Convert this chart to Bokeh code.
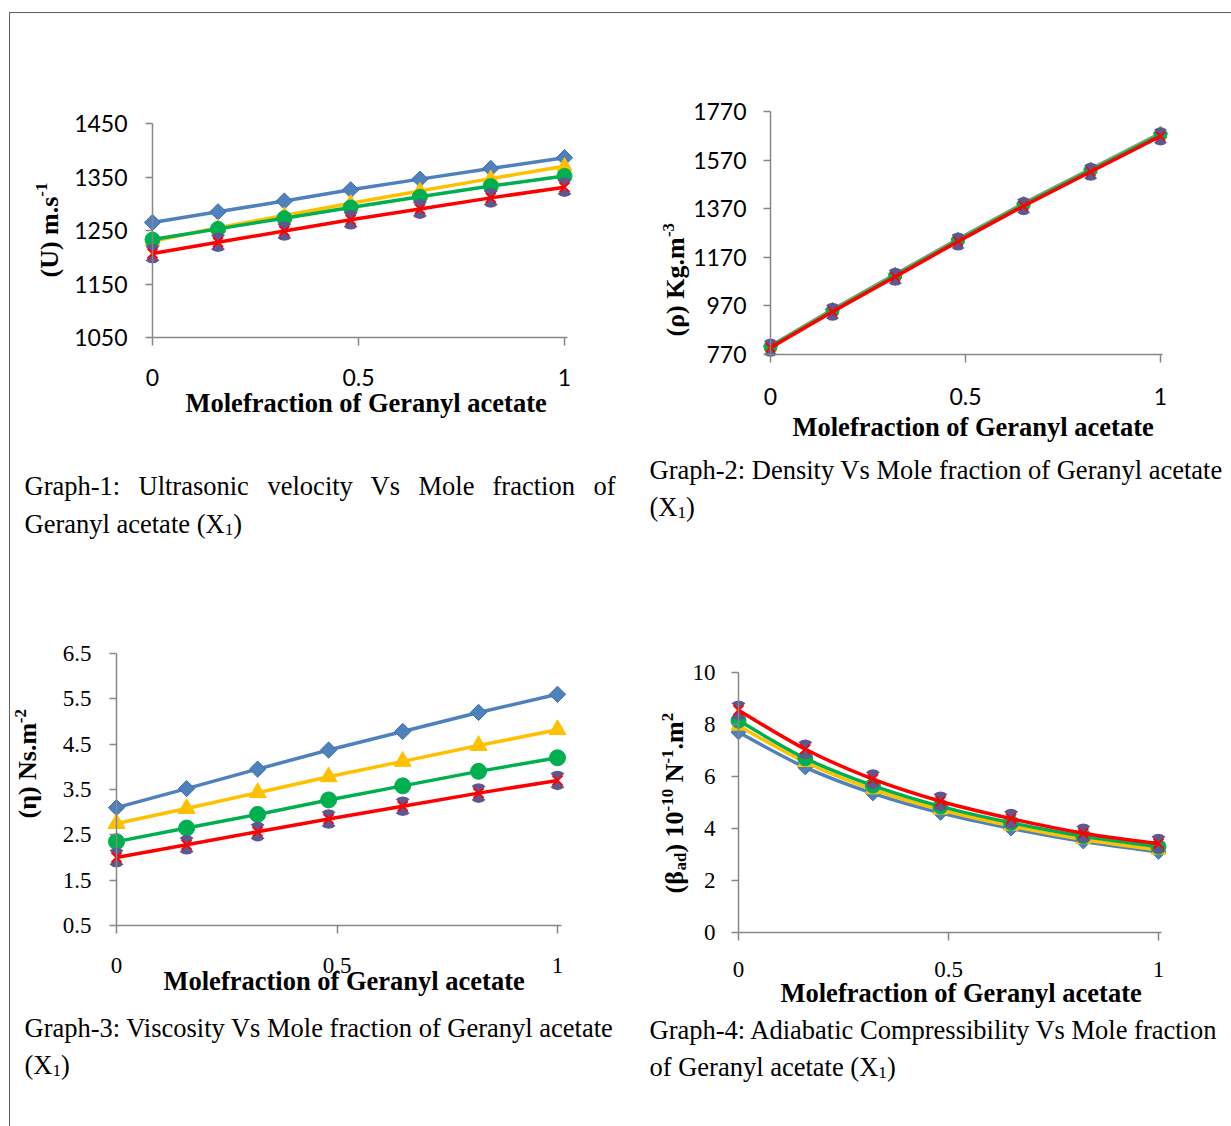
import math
from bokeh.plotting import figure
from bokeh.models import FixedTicker, Label, Spacer, NumeralTickFormatter
from bokeh.layouts import column, row
from bokeh.embed import file_html
from bokeh.resources import INLINE

# ---------------- data ----------------
x_frac = [0.0, 0.159, 0.32, 0.481, 0.649, 0.821, 1.0]

u_blue = [1265, 1285, 1305, 1326, 1346, 1366, 1386]
u_yellow = [1230, 1255, 1278, 1301, 1324, 1347, 1370]
u_green = [1233, 1253, 1273, 1293, 1313, 1333, 1352]
u_red = [1207, 1228, 1249, 1270, 1290, 1311, 1331]

rho_blue = [805, 955, 1100, 1245, 1392, 1533, 1680]
rho_yellow = [803, 952, 1097, 1242, 1389, 1530, 1677]
rho_green = [802, 950, 1095, 1240, 1387, 1528, 1675]
rho_red = [798, 946, 1090, 1235, 1381, 1522, 1668]

eta_blue = [3.10, 3.52, 3.95, 4.37, 4.78, 5.20, 5.60]
eta_yellow = [2.75, 3.08, 3.43, 3.78, 4.12, 4.47, 4.82]
eta_green = [2.35, 2.65, 2.95, 3.27, 3.58, 3.90, 4.20]
eta_red = [2.00, 2.28, 2.57, 2.85, 3.13, 3.42, 3.70]

beta_blue = [7.70, 6.35, 5.35, 4.60, 4.00, 3.50, 3.10]
beta_yellow = [7.95, 6.55, 5.50, 4.72, 4.10, 3.58, 3.18]
beta_green = [8.15, 6.70, 5.65, 4.85, 4.22, 3.70, 3.30]
beta_red = [8.55, 7.05, 5.90, 5.05, 4.38, 3.82, 3.42]

x_ticks = [0, 0.5, 1]
u_ticks = [1050, 1150, 1250, 1350, 1450]
rho_ticks = [770, 970, 1170, 1370, 1570, 1770]
eta_ticks = [0.5, 1.5, 2.5, 3.5, 4.5, 5.5, 6.5]
beta_ticks = [0, 2, 4, 6, 8, 10]

x_title = "Molefraction of Geranyl acetate"

# ---------------- styles ----------------
BLUE, BLUE_EDGE = "#4F81BD", "#3D6DAA"
YELLOW = "#FFC000"
GREEN = "#00B050"
RED = "#FF0000"
PURPLE = "#5E5790"
AXIS = "#868686"
SERIF = "Liberation Serif"
SANS = "Lato"

WR = {'G': 722, 'r': 333, 'a': 444, 'p': 500, 'h': 500, '-': 333, ':': 278, ' ': 250, 'D': 722,
      'e': 444, 'n': 500, 's': 389, 'i': 278, 't': 278, 'y': 500, 'V': 722, 'M': 889, 'o': 500,
      'l': 278, 'f': 333, 'c': 444, '(': 333, ')': 333, 'X': 722, 'U': 722, 'v': 500, 'A': 722,
      'd': 500, 'b': 500, 'C': 667, 'm': 778}
WB = {'(': 333, ')': 333, ' ': 250, 'U': 722, 'm': 833, '.': 250, 's': 389, '-': 333, 'ρ': 549,
      'K': 778, 'g': 500, 'η': 556, 'N': 722, 'β': 556, 'a': 500, 'd': 556}


def tw(text, size, table):
    return sum(table.get(c, 500) for c in text) * size / 1000.0


class Panel:
    """A figure whose frame fills its whole box; axes are pinned inside it."""

    def __init__(self, box, xmap, ymap, xbounds, ybounds):
        L, T, W, H = box
        (xa, pxa), (xb, pxb) = xmap
        (ya, pya), (yb, pyb) = ymap
        kx = (pxb - pxa) / (xb - xa)
        ky = (pya - pyb) / (yb - ya)
        xr = (xa - (pxa - L) / kx, xa + (L + W - pxa) / kx)
        yr = (ya - (T + H - pya) / ky, ya + (pya - T) / ky)
        p = figure(width=W, height=H, x_range=xr, y_range=yr, output_backend="svg",
                   toolbar_location=None, min_border=0, min_border_left=0, min_border_right=0,
                   min_border_top=0, min_border_bottom=0)
        p.grid.visible = False
        p.outline_line_color = None
        p.background_fill_color = "white"
        p.border_fill_color = "white"
        p.xaxis.fixed_location = ybounds[0]
        p.xaxis.bounds = xbounds
        p.yaxis.fixed_location = xbounds[0]
        p.yaxis.bounds = ybounds
        self.p = p
        self.fx = L
        self.fy = T + H

    def style_axes(self, yticks, font, size, xstand, ystand):
        p = self.p
        p.xaxis.ticker = FixedTicker(ticks=x_ticks)
        p.xaxis.formatter = NumeralTickFormatter(format="0.[0]")
        p.yaxis.ticker = FixedTicker(ticks=yticks)
        for ax in (p.xaxis[0], p.yaxis[0]):
            ax.axis_line_color = AXIS
            ax.axis_line_width = 1.5
            ax.major_tick_line_color = AXIS
            ax.major_tick_line_width = 1.5
            ax.major_tick_in = 0
            ax.minor_tick_in = 0
            ax.minor_tick_out = 0
            ax.major_label_text_font = font
            ax.major_label_text_font_size = size
            ax.major_label_text_color = "black"
        p.xaxis.major_tick_out = 8
        p.yaxis.major_tick_out = 7
        p.xaxis.major_label_standoff = xstand
        p.yaxis.major_label_standoff = ystand

    def put(self, px, py, text, size, bold=False, angle=0.0, align="left"):
        p = self.p
        p.add_layout(Label(x=p.x_range.start, y=p.y_range.start, x_units="data", y_units="data",
                           x_offset=px - self.fx, y_offset=self.fy - py, text=text, angle=angle,
                           text_font=SERIF, text_font_size=f"{size}px",
                           text_font_style="bold" if bold else "normal",
                           text_align=align, text_baseline="alphabetic", text_color="black"))

    def rich(self, x, y, pieces, size, bold, vertical=False):
        table = WB if bold else WR
        pos = 0.0
        for text, kind in pieces:
            s = size if kind == "n" else round(size * 0.65, 1)
            shift = 0.0 if kind == "n" else (0.28 * size if kind == "sup" else -0.22 * size)
            lead = len(text) - len(text.lstrip(" "))
            if lead:
                pos += tw(" " * lead, s, table)
                text = text.lstrip(" ")
            if vertical:
                self.put(x - shift, y - pos, text, s, bold, angle=math.pi / 2)
            else:
                self.put(x + pos, y - shift, text, s, bold)
            pos += tw(text, s, table)

    def series(self, ys_list, sizes, smooth=False, lw=3.5):
        p = self.p
        d, t, c, xs = sizes
        ys_b, ys_y, ys_g, ys_r = ys_list
        for ys, color in ((ys_b, BLUE), (ys_y, YELLOW), (ys_g, GREEN), (ys_r, RED)):
            if smooth:
                n = len(x_frac)
                pts = list(zip(x_frac, ys))
                seg = {k: [] for k in ("x0", "y0", "x1", "y1", "cx0", "cy0", "cx1", "cy1")}
                for i in range(n - 1):
                    p0 = pts[i - 1] if i > 0 else pts[i]
                    p1, p2 = pts[i], pts[i + 1]
                    p3 = pts[i + 2] if i + 2 < n else pts[i + 1]
                    seg["x0"].append(p1[0]); seg["y0"].append(p1[1])
                    seg["x1"].append(p2[0]); seg["y1"].append(p2[1])
                    seg["cx0"].append(p1[0] + (p2[0] - p0[0]) / 6)
                    seg["cy0"].append(p1[1] + (p2[1] - p0[1]) / 6)
                    seg["cx1"].append(p2[0] - (p3[0] - p1[0]) / 6)
                    seg["cy1"].append(p2[1] - (p3[1] - p1[1]) / 6)
                p.bezier(line_color=color, line_width=lw, line_cap="round", **seg)
            else:
                p.line(x_frac, ys, line_color=color, line_width=lw, line_join="round")
            if color == BLUE:
                p.scatter(x_frac, ys, marker="square", angle=math.pi / 4, size=d,
                          fill_color=BLUE, line_color=BLUE_EDGE, line_width=1)
            elif color == YELLOW:
                p.scatter(x_frac, ys, marker="triangle", size=t, fill_color=YELLOW, line_color=YELLOW)
            elif color == GREEN:
                p.scatter(x_frac, ys, marker="circle", size=c, fill_color=GREEN, line_color=GREEN)
            else:
                for a0 in (math.pi / 4, 5 * math.pi / 4):
                    p.wedge(x_frac, ys, radius=xs * 0.7, radius_units="screen", start_angle=a0,
                            end_angle=a0 + math.pi / 2, fill_color=PURPLE, line_color=None)
                p.scatter(x_frac, ys, marker="x", size=xs, line_color=RED, line_width=2)


# ---------------- Graph 1 ----------------
g1 = Panel((10, 13, 610, 547), ((0, 152), (1, 564)), ((1050, 337), (1450, 123)), (0, 1.008), (1050, 1450))
g1.style_axes(u_ticks, SANS, "23px", 23, 18)
g1.series((u_blue, u_yellow, u_green, u_red), (11.5, 15, 15, 14))
g1.rich(48.5, 277, [("(U) m.s", "n"), ("-1", "sup")], 26, True, vertical=True)
g1.put(185, 402, x_title, 26.5, True)
words1 = ["Graph-1:", "Ultrasonic", "velocity", "Vs", "Mole", "fraction", "of"]
for wx, word in zip([24, 138, 267, 370, 418, 492, 593], words1):
    g1.put(wx, 485, word, 26.5)
g1.rich(24, 523, [("Geranyl acetate (X", "n"), ("1", "sub"), (")", "n")], 26.5, False)

# ---------------- Graph 2 ----------------
g2 = Panel((620, 13, 611, 547), ((0, 770), (1, 1160)), ((770, 354), (1770, 111)), (0, 1.006), (770, 1770))
g2.style_axes(rho_ticks, SANS, "23px", 25, 17)
g2.series((rho_blue, rho_yellow, rho_green, rho_red), (10, 13, 13, 13))
g2.rich(675, 336, [("(ρ) Kg.m", "n"), ("-3", "sup")], 26, True, vertical=True)
g2.put(792, 426, x_title, 26.5, True)
g2.put(649, 469, "Graph-2: Density Vs Mole fraction of Geranyl acetate", 26.5)
g2.rich(649, 506, [("(X", "n"), ("1", "sub"), (")", "n")], 26.5, False)

# ---------------- Graph 3 ----------------
g3 = Panel((10, 560, 610, 566), ((0, 116), (1, 557)), ((0.5, 925), (6.5, 653)), (0, 1.01), (0.5, 6.5))
g3.style_axes(eta_ticks, SERIF, "23px", 24, 18)
g3.series((eta_blue, eta_yellow, eta_green, eta_red), (11.5, 17, 16, 14))
g3.rich(27, 818, [("(η) Ns.m", "n"), ("-2", "sup")], 26, True, vertical=True)
g3.put(163, 980, x_title, 26.5, True)
g3.put(24, 1027, "Graph-3: Viscosity Vs Mole fraction of Geranyl acetate", 26.5)
g3.rich(24, 1064, [("(X", "n"), ("1", "sub"), (")", "n")], 26.5, False)

# ---------------- Graph 4 ----------------
g4 = Panel((620, 560, 611, 566), ((0, 738), (1, 1158)), ((0, 932), (10, 672)), (0, 1.006), (0, 10))
g4.style_axes(beta_ticks, SERIF, "23px", 21, 16)
g4.series((beta_blue, beta_yellow, beta_green, beta_red), (10.5, 15, 15, 14), smooth=True)
g4.rich(674, 893,
        [("(β", "n"), ("ad", "sub"), (") 10", "n"), ("-10", "sup"), (" N", "n"), ("-1", "sup"),
         (".m", "n"), ("2", "sup")], 26, True, vertical=True)
g4.put(780, 992, x_title, 26.5, True)
g4.put(649, 1029, "Graph-4: Adiabatic Compressibility Vs Mole fraction", 26.5)
g4.rich(649, 1066, [("of Geranyl acetate (X", "n"), ("1", "sub"), (")", "n")], 26.5, False)

# ---------------- page layout with frame lines ----------------
LINE = {"background-color": "#5f5f5f"}
grid = column(row(column(g1.p), column(g2.p)), row(column(g3.p), column(g4.p)))
page = column(
    Spacer(width=1231, height=12),
    row(Spacer(width=9, height=1), Spacer(width=1222, height=1, styles=LINE)),
    row(Spacer(width=9, height=1113), Spacer(width=1, height=1113, styles=LINE), grid),
)

open("out.html", "w").write(file_html(page, INLINE))
